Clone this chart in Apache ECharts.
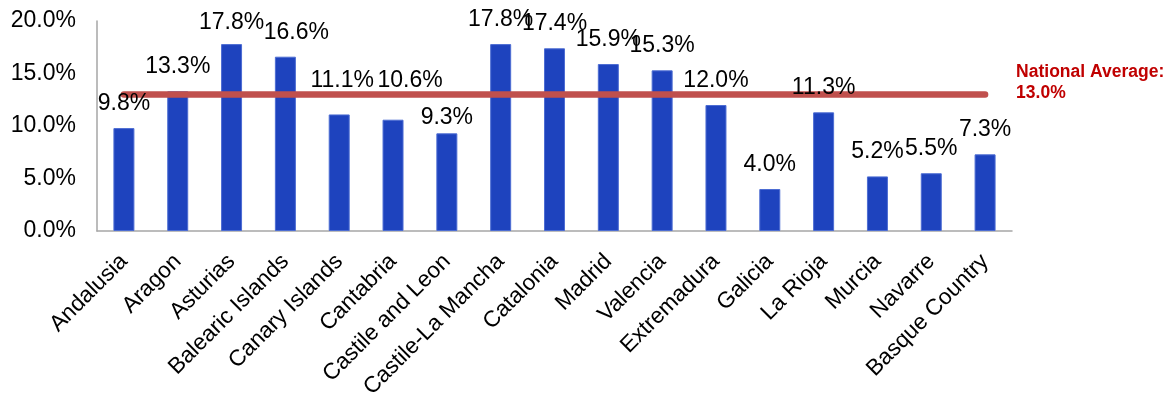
<!DOCTYPE html>
<html>
<head>
<meta charset="utf-8">
<script src="https://cdn.jsdelivr.net/npm/echarts@6/dist/echarts.min.js"></script>
<style>
  html, body { margin: 0; padding: 0; background: #fff; }
  #chart { width: 1171px; height: 396px; }
</style>
</head>
<body>
<div id="chart"></div>
<script>
// Regional rates by autonomous community (%)
const regions = ['Andalusia', 'Aragon', 'Asturias', 'Balearic Islands', 'Canary Islands', 'Cantabria',
  'Castile and Leon', 'Castile-La Mancha', 'Catalonia', 'Madrid', 'Valencia', 'Extremadura',
  'Galicia', 'La Rioja', 'Murcia', 'Navarre', 'Basque Country'];
const rates = [9.8, 13.3, 17.8, 16.6, 11.1, 10.6, 9.3, 17.8, 17.4, 15.9, 15.3, 12.0, 4.0, 11.3, 5.2, 5.5, 7.3];
const nationalAverage = 13.0;
const yTicks = { min: 0, max: 20, interval: 5 };

const font = 'Liberation Sans, Arial, sans-serif';

// A few value labels are nudged so they don't collide with neighbours or the average line
const labelNudges = {
  'Asturias': [0, 3],
  'Balearic Islands': [11, 0],
  'Canary Islands': [3, -9],
  'Cantabria': [17, -15],
  'Castile and Leon': [0, 9]
};

const labelData = regions.map((name, i) => {
  const item = { value: rates[i] };
  if (labelNudges[name]) item.label = { offset: labelNudges[name] };
  return item;
});

const chart = echarts.init(document.getElementById('chart'));

chart.setOption({
  animation: false,
  grid: { left: 97, right: 159, top: 21, bottom: 165, containLabel: false, outerBoundsMode: 'none' },
  xAxis: {
    type: 'category',
    data: regions,
    axisLine: { lineStyle: { color: '#a6a6a6', width: 1.5 } },
    axisTick: { show: false },
    axisLabel: { rotate: 45, interval: 0, margin: 27, color: '#000', fontSize: 22.6, fontFamily: font }
  },
  yAxis: {
    type: 'value',
    min: yTicks.min, max: yTicks.max, interval: yTicks.interval,
    axisLine: { show: true, lineStyle: { color: '#a6a6a6', width: 1.5 } },
    axisTick: { show: false },
    splitLine: { show: false },
    axisLabel: { margin: 21, color: '#000', fontSize: 23, fontFamily: font,
      formatter: v => v.toFixed(1) + '%' }
  },
  series: [
    {
      // the bars themselves
      type: 'bar',
      data: rates,
      barWidth: '39%',
      itemStyle: { color: '#1e43be', borderColor: '#4d6dd3', borderWidth: 1 },
      z: 1
    },
    {
      // national average line, drawn across the bars
      type: 'line',
      data: regions.map(() => nationalAverage),
      symbol: 'none',
      lineStyle: { color: '#c0504d', width: 6.5, cap: 'round' },
      endLabel: {
        show: true,
        formatter: () => 'National Average:\n' + nationalAverage.toFixed(1) + '%',
        color: '#c00000', fontWeight: 'bold', fontSize: 17.5, fontFamily: font,
        lineHeight: 21, distance: 31, offset: [0, -12], align: 'left', verticalAlign: 'middle'
      },
      z: 2
    },
    {
      // value labels on top of everything
      type: 'bar',
      data: labelData,
      barWidth: '39%',
      barGap: '-100%',
      silent: true,
      itemStyle: { color: 'rgba(0,0,0,0)' },
      label: { show: true, position: 'top', distance: 13, color: '#000', fontSize: 23, fontFamily: font,
        formatter: p => p.value.toFixed(1) + '%' },
      z: 3
    }
  ]
});
</script>
</body>
</html>
